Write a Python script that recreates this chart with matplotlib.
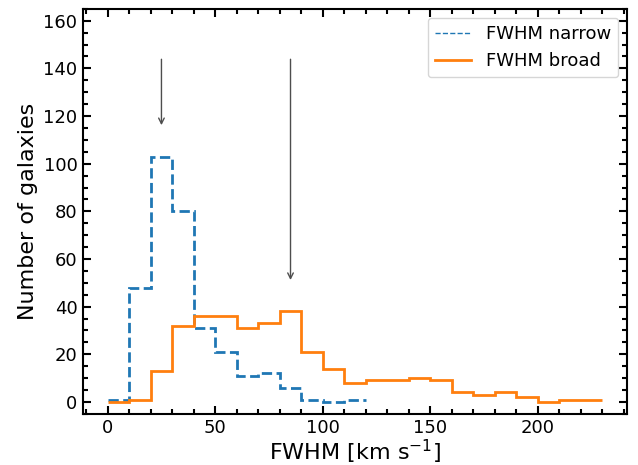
import matplotlib
matplotlib.use('Agg')
import matplotlib.pyplot as plt
from matplotlib.lines import Line2D
from matplotlib.ticker import MultipleLocator
import numpy as np

plt.rcParams['xtick.direction'] = 'in'
plt.rcParams['ytick.direction'] = 'in'

# histogram bin edges (km/s), 10 km/s wide
edges_narrow = np.arange(0, 130, 10)
edges_broad = np.arange(0, 240, 10)

# counts per bin
counts_narrow = [1, 48, 103, 80, 31, 21, 11, 12, 6, 1, 0, 1]
counts_broad = [0, 1, 13, 32, 36, 36, 31, 33, 38, 21, 14, 8,
                9, 9, 10, 9, 4, 3, 4, 2, 0, 1, 1]

# arrows marking the typical widths
arrow_x = [25, 85]
arrow_tip = [115, 50]
arrow_top = 145

fig, ax = plt.subplots(figsize=(6.38, 4.65), dpi=100)
plt.subplots_adjust(left=0.130, right=0.983, top=0.981, bottom=0.110)

ax.stairs(counts_narrow, edges_narrow, color='C0', ls='--', lw=2, baseline=None)
ax.stairs(counts_broad, edges_broad, color='C1', ls='-', lw=2, baseline=None)

for x, tip in zip(arrow_x, arrow_tip):
    ax.annotate('', xy=(x, tip), xytext=(x, arrow_top),
                arrowprops=dict(arrowstyle='->', color='0.3', lw=1))

ax.set_xlim(-11.5, 241.5)
ax.set_ylim(-5, 165)
ax.xaxis.set_major_locator(MultipleLocator(50))
ax.xaxis.set_minor_locator(MultipleLocator(10))
ax.yaxis.set_major_locator(MultipleLocator(20))
ax.yaxis.set_minor_locator(MultipleLocator(5))
ax.tick_params(which='both', direction='in', top=True, right=True,
               labelsize=13, pad=4)
ax.tick_params(which='major', length=6, width=1.5)
ax.tick_params(which='minor', length=3.5, width=1.5)
for s in ax.spines.values():
    s.set_linewidth(1.5)

ax.set_xlabel(r'FWHM [km s$^{-1}$]', fontsize=16, labelpad=0)
ax.set_ylabel('Number of galaxies', fontsize=16)

handles = [Line2D([], [], color='C0', ls='--', lw=1),
           Line2D([], [], color='C1', ls='-', lw=2)]
ax.legend(handles, ['FWHM narrow', 'FWHM broad'], loc='upper right', fontsize=13)

fig.savefig('out.png', dpi=100)
